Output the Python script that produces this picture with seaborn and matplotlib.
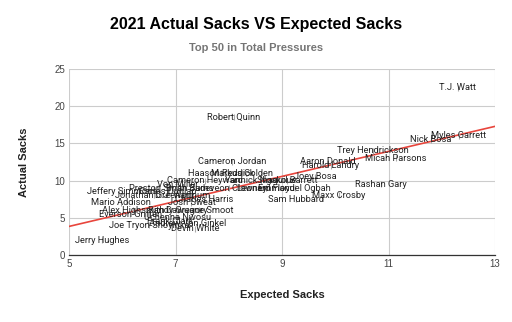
import matplotlib
matplotlib.use("Agg")
import matplotlib.pyplot as plt
import seaborn as sns
import pandas as pd
import numpy as np

players = [
    "T.J. Watt", "Robert Quinn", "Myles Garrett", "Nick Bosa", "Trey Hendrickson",
    "Micah Parsons", "Aaron Donald", "Harold Landry", "Cameron Jordan", "Haason Reddick",
    "Markus Golden", "Cameron Heyward", "Yannick Ngakoue", "Shaquil Barrett", "Von Miller",
    "Preston Smith", "Brian Burns", "Jadeveon Clowney", "Leonard Floyd", "Emmanuel Ogbah",
    "Joey Bosa", "Rashan Gary", "Maxx Crosby", "Sam Hubbard", "Charles Harris",
    "Jeffery Simmons", "Carlos Dunlap", "Jonathan Greenard", "D.J. Wonnum", "Mario Addison",
    "Josh Sweat", "Alex Highsmith", "Randy Gregory", "Dawuane Smoot", "Everson Griffen",
    "Uchenna Nwosu", "Frank Clark", "Joe Tryon-Shoyinka", "Andrew Van Ginkel", "Devin White",
    "Jerry Hughes",
]
expected_sacks = [
    12.30, 8.10, 12.32, 11.80, 10.70,
    11.14, 9.86, 9.92, 8.06, 7.85,
    8.25, 7.55, 8.60, 9.10, 7.05,
    6.67, 7.27, 8.00, 8.70, 9.24,
    9.62, 10.86, 10.07, 9.26, 7.54,
    6.00, 6.85, 6.60, 7.14, 5.98,
    7.30, 6.20, 7.05, 7.45, 6.15,
    7.03, 6.90, 6.50, 7.23, 7.37,
    5.62,
]
actual_sacks = [
    22.5, 18.5, 16.0, 15.5, 14.0,
    13.0, 12.5, 12.0, 12.5, 11.0,
    11.0, 10.0, 10.0, 10.0, 9.5,
    9.0, 9.0, 9.0, 9.0, 9.0,
    10.5, 9.5, 8.0, 7.5, 7.5,
    8.5, 8.5, 8.0, 8.0, 7.0,
    7.0, 6.0, 6.0, 6.0, 5.5,
    5.0, 4.5, 4.0, 4.25, 3.5,
    2.0,
]

df = pd.DataFrame({"player": players, "xs": expected_sacks, "sacks": actual_sacks})

sns.set_theme(style="white")
plt.rcParams["font.family"] = ["Roboto", "DejaVu Sans"]

fig = plt.figure(figsize=(5.12, 3.22), dpi=100)
ax = fig.add_axes([69/512, 67/322, 426/512, 186/322])
ax.set_xlim(5, 13)
ax.set_ylim(0, 25)

sns.regplot(data=df, x="xs", y="sacks", ax=ax, scatter=False, ci=None,
            truncate=False, line_kws={"color": "#e8453c", "linewidth": 1.2})
sns.scatterplot(data=df, x="xs", y="sacks", ax=ax, marker="|", s=18,
                color="#aaaaaa", linewidth=0.8, zorder=3)
ax.set_xlim(5, 13)
ax.set_ylim(0, 25)

for name, x, y in zip(players, expected_sacks, actual_sacks):
    ax.text(x, y, name, ha="center", va="center", fontsize=6.7, color="#222222", zorder=4)

ax.set_xticks([5, 7, 9, 11, 13])
ax.set_yticks([0, 5, 10, 15, 20, 25])
ax.grid(True, color="#cccccc", linewidth=0.8)
ax.set_axisbelow(True)
for s in ["top", "right", "left"]:
    ax.spines[s].set_visible(False)
ax.spines["bottom"].set_color("#333333")
ax.spines["bottom"].set_linewidth(0.9)
ax.tick_params(axis="both", length=0, labelsize=7, colors="#444444", pad=3)
for lbl in ax.get_xticklabels() + ax.get_yticklabels():
    lbl.set_family(["Liberation Sans", "DejaVu Sans"])

ax.set_xlabel("Expected Sacks", fontsize=8, fontweight="bold", color="#222222",
              family=["Liberation Sans", "DejaVu Sans"], labelpad=15)
ax.set_ylabel("Actual Sacks", fontsize=8, fontweight="bold", color="#222222",
              family=["Liberation Sans", "DejaVu Sans"], labelpad=18)

fig.text(0.5, 1 - 25/322, "2021 Actual Sacks VS Expected Sacks", ha="center", va="center",
         fontsize=11.5, fontweight="bold", color="#000000",
         family=["Liberation Sans", "DejaVu Sans"])
fig.text(0.5, 1 - 48/322, "Top 50 in Total Pressures", ha="center", va="center",
         fontsize=8, fontweight="bold", color="#757575",
         family=["Liberation Sans", "DejaVu Sans"])

fig.savefig("out.png", dpi=100, facecolor="white")
